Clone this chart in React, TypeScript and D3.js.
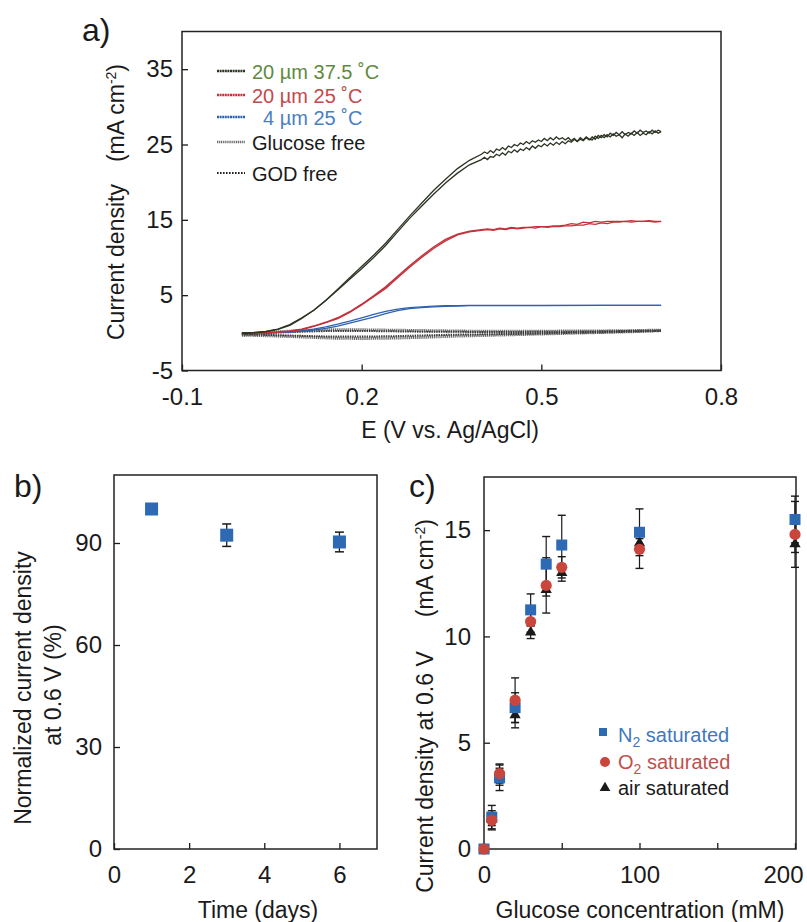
import React, { useEffect, useRef } from "react";
import * as d3 from "d3";

const FONT = "'Liberation Sans', Arial, Helvetica, sans-serif";
const INK = "#1a1a1a";

// ---- a) cyclic voltammograms, E (V vs Ag/AgCl) -> j (mA cm-2)
const RISE_E = [0, 0.02, 0.04, 0.06, 0.08, 0.1, 0.12, 0.14, 0.16, 0.18, 0.2, 0.22, 0.24, 0.26, 0.28, 0.3, 0.32, 0.34, 0.36, 0.38];
const PLATEAU_E = [0.4, 0.41, 0.42, 0.43, 0.44, 0.45, 0.46, 0.47, 0.48, 0.49, 0.5, 0.51, 0.52, 0.53, 0.54, 0.55, 0.56, 0.57, 0.58, 0.59, 0.6, 0.61, 0.62, 0.63, 0.64, 0.65, 0.66, 0.67, 0.68, 0.69, 0.7];
const PLATEAU_E_FINE = [0.4, 0.405, 0.41, 0.415, 0.42, 0.425, 0.43, 0.435, 0.44, 0.445, 0.45, 0.455, 0.46, 0.465, 0.47, 0.475, 0.48, 0.485, 0.49, 0.495, 0.5, 0.505, 0.51, 0.515, 0.52, 0.525, 0.53, 0.535, 0.54, 0.545, 0.55, 0.555, 0.56, 0.565, 0.57, 0.575, 0.58, 0.585, 0.59, 0.595, 0.6, 0.605, 0.61, 0.615, 0.62, 0.625, 0.63, 0.635, 0.64, 0.645, 0.65, 0.655, 0.66, 0.665, 0.67, 0.675, 0.68, 0.685, 0.69, 0.695, 0.7];
const BLUE_PLATEAU_E = [0.4, 0.5, 0.6, 0.7];
const GREY_E = [0, 0.05, 0.1, 0.15, 0.2, 0.25, 0.3, 0.35, 0.4, 0.45, 0.5, 0.55, 0.6, 0.65, 0.7];

// 20 um 37.5 C
const BLACK_FWD_RISE = [0, 0.05, 0.2, 0.5, 1.1, 2.0, 3.0, 4.3, 5.7, 7.1, 8.5, 10.0, 11.6, 13.4, 15.2, 16.8, 18.4, 19.9, 21.2, 22.3];
const BLACK_REV_RISE = [-0.1, 0, 0.15, 0.45, 1.0, 1.9, 3.0, 4.3, 5.8, 7.3, 8.8, 10.3, 11.9, 13.7, 15.5, 17.2, 18.9, 20.4, 21.8, 22.9];
const BLACK_FWD_PLATEAU = [23.0, 23.3, 23.0, 23.4, 23.3, 23.7, 23.5, 23.9, 23.6, 24.1, 23.9, 24.3, 24.0, 24.4, 24.2, 24.6, 24.3, 24.8, 24.5, 24.9, 24.7, 25.1, 24.8, 25.2, 24.9, 25.3, 25.0, 25.4, 25.1, 25.5, 25.3, 25.7, 25.4, 25.9, 25.6, 26.0, 25.7, 25.6, 26.1, 25.8, 26.2, 25.9, 26.3, 26.0, 26.4, 26.1, 26.3, 25.9, 26.4, 26.1, 26.5, 26.2, 26.6, 26.2, 26.5, 26.3, 26.7, 26.4, 26.8, 26.5, 26.7];
const BLACK_REV_PLATEAU = [23.7, 24.0, 23.8, 24.2, 23.9, 24.4, 24.2, 24.6, 24.3, 24.8, 24.6, 25.0, 24.8, 25.2, 25.0, 25.4, 25.1, 25.5, 25.3, 25.6, 25.4, 25.8, 25.5, 25.9, 25.6, 26.0, 25.7, 25.9, 25.6, 25.9, 25.5, 25.8, 25.4, 25.7, 25.5, 25.9, 25.6, 26.0, 25.7, 26.2, 25.9, 26.3, 26.0, 26.5, 26.2, 26.6, 26.3, 26.7, 26.3, 26.6, 26.4, 26.8, 26.5, 26.9, 26.6, 26.8, 26.5, 26.9, 26.6, 26.9, 26.7];

// 20 um 25 C
const RED_FWD_RISE = [0, 0, 0.05, 0.1, 0.2, 0.45, 0.85, 1.35, 1.9, 2.7, 3.7, 4.8, 5.9, 7.3, 8.7, 10.0, 11.2, 12.2, 13.0, 13.4];
const RED_REV_RISE = [-0.1, 0, 0.05, 0.1, 0.25, 0.5, 0.9, 1.4, 2.0, 2.8, 3.8, 4.9, 6.1, 7.5, 8.9, 10.2, 11.4, 12.4, 13.1, 13.5];
const RED_FWD_PLATEAU = [13.6, 13.7, 13.6, 13.8, 13.7, 13.9, 13.8, 13.9, 14.0, 13.9, 14.1, 14.0, 14.1, 14.1, 14.2, 14.2, 14.3, 14.3, 14.5, 14.4, 14.6, 14.5, 14.7, 14.7, 14.8, 14.7, 14.8, 14.8, 14.8, 14.7, 14.8];
const RED_REV_PLATEAU = [13.7, 13.8, 13.7, 13.9, 13.8, 14.0, 13.9, 14.0, 14.0, 14.1, 14.1, 14.1, 14.2, 14.2, 14.3, 14.5, 14.4, 14.7, 14.6, 14.8, 14.7, 14.8, 14.8, 14.8, 14.8, 14.9, 14.8, 14.8, 14.9, 14.8, 14.8];

// 4 um 25 C
const BLUE_FWD_RISE = [0, 0, 0, 0.05, 0.1, 0.2, 0.35, 0.6, 0.9, 1.3, 1.7, 2.1, 2.55, 2.95, 3.2, 3.35, 3.45, 3.5, 3.55, 3.6];
const BLUE_REV_RISE = [-0.1, 0, 0, 0.05, 0.15, 0.3, 0.5, 0.8, 1.15, 1.55, 2.0, 2.45, 2.85, 3.15, 3.35, 3.45, 3.55, 3.6, 3.6, 3.65];
const BLUE_FWD_PLATEAU = [3.6, 3.6, 3.65, 3.65];
const BLUE_REV_PLATEAU = [3.65, 3.65, 3.65, 3.65];

// controls
const GLU_FREE_FWD = [-0.3, 0.1, 0.3, 0.4, 0.4, 0.35, 0.3, 0.25, 0.2, 0.2, 0.2, 0.25, 0.25, 0.3, 0.35];
const GLU_FREE_REV = [-0.3, -0.4, -0.55, -0.7, -0.75, -0.7, -0.6, -0.45, -0.35, -0.25, -0.15, -0.05, 0.05, 0.15, 0.3];
const GOD_FREE_FWD = [-0.2, 0, 0.15, 0.25, 0.25, 0.2, 0.15, 0.15, 0.1, 0.1, 0.15, 0.15, 0.2, 0.25, 0.3];
const GOD_FREE_REV = [-0.2, -0.3, -0.4, -0.5, -0.5, -0.45, -0.35, -0.25, -0.2, -0.15, -0.1, 0, 0.05, 0.15, 0.25];

const A_X_TICKS = [-0.1, 0.2, 0.5, 0.8];
const A_Y_TICKS = [-5, 5, 15, 25, 35];

// ---- b) stability
const DAYS = [1, 3, 6];
const RETENTION = [100, 92.3, 90.3];
const RETENTION_ERR = [0, 3.3, 2.9];
const B_X_TICKS = [0, 2, 4, 6];
const B_Y_TICKS = [0, 30, 60, 90];

// ---- c) glucose response at 0.6 V
const GLUCOSE = [0, 5, 10, 20, 30, 40, 50, 100, 200];
const N2_J = [0, 1.5, 3.35, 6.65, 11.25, 13.4, 14.3, 14.9, 15.5];
const N2_ERR = [0, 0.55, 0.6, 0.7, 0.75, 1.3, 1.4, 1.1, 1.1];
const O2_J = [0, 1.35, 3.55, 7.0, 10.7, 12.4, 13.25, 14.1, 14.8];
const O2_ERR = [0, 0.45, 0.45, 1.05, 0.5, 1.3, 0.5, 0.9, 1.55];
const AIR_J = [0, 1.4, 3.4, 6.3, 10.2, 12.2, 13.0, 14.4, 14.35];
const AIR_ERR = [0, 0.3, 0.4, 0.6, 0.3, 0.3, 0.4, 0.2, 0.4];
const C_X_TICKS = [0, 50, 100, 150, 200];
const C_X_LABELS = [0, 100, 200];
const C_Y_TICKS = [0, 5, 10, 15];

const zip = (es: number[], js: number[]) => es.map((e, k) => ({ e, j: js[k] }));

function styleAxis(g: any, size = 24) {
  g.select(".domain").remove();
  g.selectAll("line").attr("stroke", INK).attr("stroke-width", 1.3);
  g.selectAll("text").attr("font-size", size).attr("font-family", FONT).attr("fill", INK);
}

function frame(svg: any, x0: number, y0: number, x1: number, y1: number) {
  svg.append("rect")
    .attr("x", x0).attr("y", y0)
    .attr("width", x1 - x0).attr("height", y1 - y0)
    .attr("fill", "none").attr("stroke", "#222").attr("stroke-width", 1.5);
}

function label(svg: any, txt: string, x: number, y: number, size: number, rotate = false, anchor = "middle") {
  const t = svg.append("text")
    .attr("font-family", FONT).attr("font-size", size).attr("fill", INK)
    .attr("text-anchor", anchor);
  if (rotate) t.attr("transform", `translate(${x},${y}) rotate(-90)`);
  else t.attr("x", x).attr("y", y);
  t.text(txt);
  return t;
}

const App = () => {
  const ref = useRef<SVGSVGElement>(null);

  useEffect(() => {
    const svg = d3.select(ref.current);
    svg.selectAll("*").remove();

    // ================= panel a =================
    const ax = d3.scaleLinear().domain([-0.1, 0.8]).range([182, 721]);
    const ay = d3.scaleLinear().domain([-5, 40]).range([370.5, 31.5]);
    const line = d3.line<{ e: number; j: number }>().x((d) => ax(d.e)).y((d) => ay(d.j));

    const curves = [
      { pts: zip(GREY_E, GLU_FREE_FWD), color: "#6e6e6e", w: 3, dash: "1.2 0.7" },
      { pts: zip(GREY_E, GLU_FREE_REV), color: "#6e6e6e", w: 3, dash: "1.2 0.7" },
      { pts: zip(GREY_E, GOD_FREE_FWD), color: "#3a3a3a", w: 2, dash: "1.4 1" },
      { pts: zip(GREY_E, GOD_FREE_REV), color: "#3a3a3a", w: 2, dash: "1.4 1" },
      { pts: zip(RISE_E.concat(BLUE_PLATEAU_E), BLUE_FWD_RISE.concat(BLUE_FWD_PLATEAU)), color: "#2d62b0", w: 1.3 },
      { pts: zip(RISE_E.concat(BLUE_PLATEAU_E), BLUE_REV_RISE.concat(BLUE_REV_PLATEAU)), color: "#2d62b0", w: 1.3 },
      { pts: zip(RISE_E.concat(PLATEAU_E), RED_FWD_RISE.concat(RED_FWD_PLATEAU)), color: "#c4313b", w: 1.4 },
      { pts: zip(RISE_E.concat(PLATEAU_E), RED_REV_RISE.concat(RED_REV_PLATEAU)), color: "#c4313b", w: 1.4 },
      { pts: zip(RISE_E.concat(PLATEAU_E_FINE), BLACK_FWD_RISE.concat(BLACK_FWD_PLATEAU)), color: "#2b3323", w: 1.3 },
      { pts: zip(RISE_E.concat(PLATEAU_E_FINE), BLACK_REV_RISE.concat(BLACK_REV_PLATEAU)), color: "#2b3323", w: 1.3 },
    ];
    curves.forEach((c) => {
      svg.append("path")
        .attr("d", line(c.pts))
        .attr("fill", "none")
        .attr("stroke", c.color)
        .attr("stroke-width", c.w)
        .attr("stroke-dasharray", c.dash || null);
    });

    svg.append("g").attr("transform", "translate(0,370.5)")
      .call(d3.axisBottom(ax).tickValues(A_X_TICKS).tickSizeInner(-6).tickSizeOuter(0).tickPadding(17).tickFormat((d) => String(d)))
      .call((g) => styleAxis(g));
    svg.append("g").attr("transform", "translate(182,0)")
      .call(d3.axisLeft(ay).tickValues(A_Y_TICKS).tickSizeInner(-6).tickSizeOuter(0).tickPadding(9).tickFormat((d) => String(d)))
      .call((g) => styleAxis(g));
    frame(svg, 182, 31.5, 721, 370.5);

    // legend a
    const legA = [
      { txt: "20 µm 37.5 ˚C", color: "#2b3323", tc: "#5f8a3e", y: 71, dash: "2 0.6", w: 2.6 },
      { txt: "20 µm 25 ˚C", color: "#c4313b", tc: "#c4494a", y: 95, dash: "2 0.6", w: 2.6 },
      { txt: " 4 µm 25 ˚C", color: "#2d62b0", tc: "#4a7fc1", y: 117, dash: "2 0.6", w: 2.6 },
      { txt: "Glucose free", color: "#6e6e6e", tc: INK, y: 142, dash: "1.2 0.7", w: 2.6 },
      { txt: "GOD free", color: "#222", tc: INK, y: 173, dash: "1.6 1.4", w: 1.8 },
    ];
    legA.forEach((l) => {
      svg.append("line")
        .attr("x1", 217).attr("x2", 245).attr("y1", l.y).attr("y2", l.y)
        .attr("stroke", l.color).attr("stroke-width", l.w)
        .attr("stroke-dasharray", l.dash);
      svg.append("text")
        .attr("x", l.txt.startsWith(" ") ? 263 : 252).attr("y", l.y + 8)
        .attr("font-family", FONT).attr("font-size", 20).attr("fill", l.tc)
        .text(l.txt.trim());
    });

    label(svg, "a)", 82, 41, 32, false, "start");
    label(svg, "E (V vs. Ag/AgCl)", 450, 438, 23);
    const aYT = label(svg, "", 124, 202, 23, true);
    aYT.append("tspan").text("Current density");
    aYT.append("tspan").attr("dx", 22).text("(mA cm");
    aYT.append("tspan").attr("dy", -8).attr("font-size", 14).text("-2");
    aYT.append("tspan").attr("dy", 8).text(")");

    // ================= panel b =================
    const bx = d3.scaleLinear().domain([0, 7]).range([114, 377]);
    const by = d3.scaleLinear().domain([0, 110]).range([849, 475]);

    svg.append("g").attr("transform", "translate(0,849)")
      .call(d3.axisBottom(bx).tickValues(B_X_TICKS).tickSizeInner(-6).tickSizeOuter(0).tickPadding(17).tickFormat((d) => String(d)))
      .call((g) => styleAxis(g));
    svg.append("g").attr("transform", "translate(114,0)")
      .call(d3.axisLeft(by).tickValues(B_Y_TICKS).tickSizeInner(-6).tickSizeOuter(0).tickPadding(12).tickFormat((d) => String(d)))
      .call((g) => styleAxis(g));
    frame(svg, 114, 475, 377, 849);

    DAYS.forEach((d, k) => {
      const err = RETENTION_ERR[k];
      if (err > 0) {
        const px = bx(d);
        const y0 = by(RETENTION[k] - err);
        const y1 = by(RETENTION[k] + err);
        svg.append("line").attr("x1", px).attr("x2", px).attr("y1", y0).attr("y2", y1).attr("stroke", INK).attr("stroke-width", 1.3);
        [y0, y1].forEach((yy) =>
          svg.append("line").attr("x1", px - 4.5).attr("x2", px + 4.5).attr("y1", yy).attr("y2", yy).attr("stroke", INK).attr("stroke-width", 1.5)
        );
      }
    });
    svg.append("g").selectAll("rect").data(DAYS).join("rect")
      .attr("x", (d) => bx(d) - 6.5)
      .attr("y", (d, k) => by(RETENTION[k]) - 6.5)
      .attr("width", 13).attr("height", 13)
      .attr("fill", "#2e6ab3");

    label(svg, "b)", 14, 497, 32, false, "start");
    label(svg, "Time (days)", 258, 918, 23);
    label(svg, "Normalized current density", 31, 688, 23, true);
    label(svg, "at 0.6 V (%)", 61, 685, 23, true);

    // ================= panel c =================
    const cx = d3.scaleLinear().domain([0, 200]).range([484, 795]);
    const cy = d3.scaleLinear().domain([0, 17.5]).range([849, 477]);

    svg.append("g").attr("transform", "translate(0,849)")
      .call(d3.axisBottom(cx).tickValues(C_X_TICKS).tickSizeInner(-6).tickSizeOuter(0).tickPadding(17)
        .tickFormat((d) => (C_X_LABELS.includes(d as number) ? String(d) : "")))
      .call((g) => styleAxis(g))
      .call((g) => g.selectAll("text").filter((d) => d === 200).attr("dx", -12));
    svg.append("g").attr("transform", "translate(484,0)")
      .call(d3.axisLeft(cy).tickValues(C_Y_TICKS).tickSizeInner(-6).tickSizeOuter(0).tickPadding(13).tickFormat((d) => String(d)))
      .call((g) => styleAxis(g));
    frame(svg, 484, 477, 796, 849);

    const series = [
      { vals: AIR_J, errs: AIR_ERR },
      { vals: N2_J, errs: N2_ERR },
      { vals: O2_J, errs: O2_ERR },
    ];
    series.forEach((s) => {
      GLUCOSE.forEach((gc, k) => {
        const err = s.errs[k];
        if (err <= 0) return;
        const px = cx(gc);
        const y0 = cy(s.vals[k] - err);
        const y1 = cy(s.vals[k] + err);
        svg.append("line").attr("x1", px).attr("x2", px).attr("y1", y0).attr("y2", y1).attr("stroke", INK).attr("stroke-width", 1.2);
        [y0, y1].forEach((yy) =>
          svg.append("line").attr("x1", px - 4).attr("x2", px + 4).attr("y1", yy).attr("y2", yy).attr("stroke", INK).attr("stroke-width", 1.4)
        );
      });
    });

    const tri = d3.symbol().type(d3.symbolTriangle).size(55);
    svg.append("g").selectAll("path").data(GLUCOSE).join("path")
      .attr("d", tri as any)
      .attr("transform", (d, k) => `translate(${cx(d)},${cy(AIR_J[k])})`)
      .attr("fill", "#1a1a1a");
    svg.append("g").selectAll("rect").data(GLUCOSE).join("rect")
      .attr("x", (d) => cx(d) - 5.5)
      .attr("y", (d, k) => cy(N2_J[k]) - 5.5)
      .attr("width", 11).attr("height", 11)
      .attr("fill", "#2e6ab3");
    svg.append("g").selectAll("circle").data(GLUCOSE).join("circle")
      .attr("cx", (d) => cx(d))
      .attr("cy", (d, k) => cy(O2_J[k]))
      .attr("r", 5.6)
      .attr("fill", "#c9463d");

    // legend c
    svg.append("rect").attr("x", 599).attr("y", 728).attr("width", 8).attr("height", 8).attr("fill", "#2e6ab3");
    svg.append("circle").attr("cx", 605).attr("cy", 762).attr("r", 5).attr("fill", "#c9463d");
    svg.append("path").attr("d", d3.symbol().type(d3.symbolTriangle).size(50)() as string)
      .attr("transform", "translate(605,788)").attr("fill", "#1a1a1a");

    const legC = [
      { base: "N", sub: "2", rest: " saturated", color: "#3f78bd", y: 742 },
      { base: "O", sub: "2", rest: " saturated", color: "#c0504a", y: 769 },
      { base: "air saturated", sub: "", rest: "", color: INK, y: 795 },
    ];
    legC.forEach((l) => {
      const t = svg.append("text")
        .attr("x", 618).attr("y", l.y)
        .attr("font-family", FONT).attr("font-size", 20).attr("fill", l.color);
      t.append("tspan").text(l.base);
      if (l.sub) {
        t.append("tspan").attr("dy", 5).attr("font-size", 14).text(l.sub);
        t.append("tspan").attr("dy", -5).text(l.rest);
      }
    });

    label(svg, "c)", 409, 497, 32, false, "start");
    label(svg, "Glucose concentration (mM)", 640, 918, 23);
    const cYT = label(svg, "", 433, 706, 23, true);
    cYT.append("tspan").text("Current density at 0.6 V");
    cYT.append("tspan").attr("dx", 34).text("(mA cm");
    cYT.append("tspan").attr("dy", -8).attr("font-size", 14).text("-2");
    cYT.append("tspan").attr("dy", 8).text(")");
  }, []);

  return (
    <svg
      ref={ref}
      width={807}
      height={922}
      style={{ position: "absolute", left: 0, top: 0, background: "#fff" }}
    />
  );
};

export default App;
